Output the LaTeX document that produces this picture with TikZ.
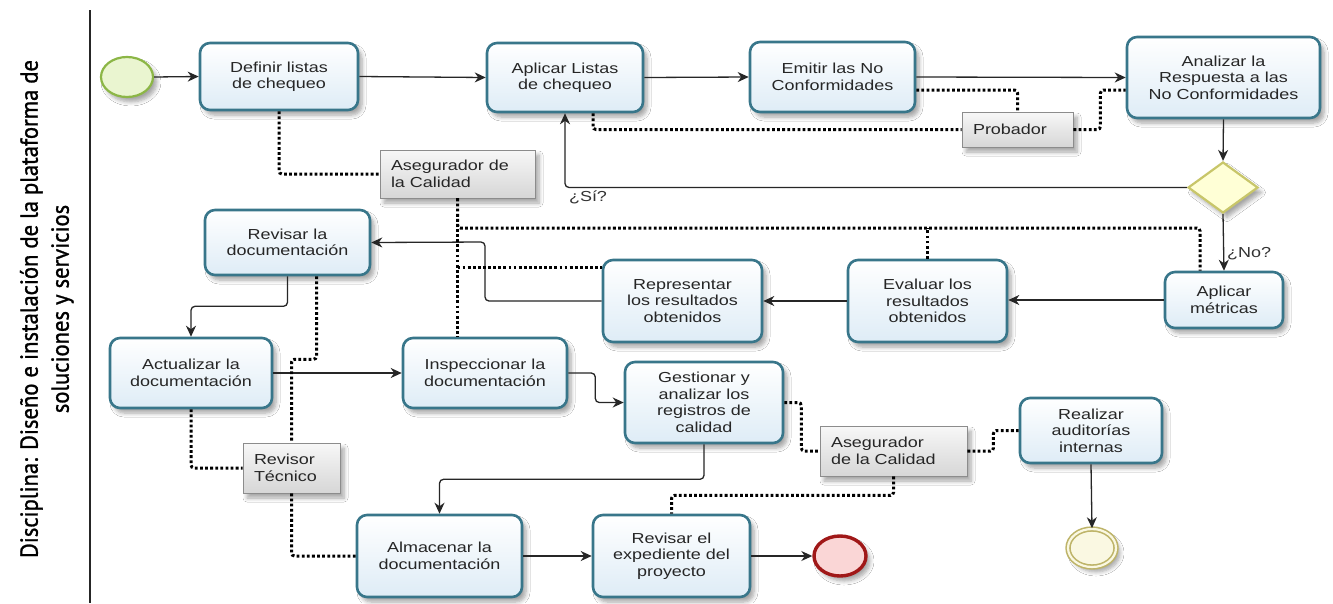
\documentclass[tikz,border=0pt]{standalone}
\usepackage{fontspec}
\setmainfont{Liberation Sans}[FakeStretch=1.24]
\newfontfamily\lanefont{PT Sans}[FakeBold=1.2]
\usepackage{graphicx}
\usetikzlibrary{shapes.geometric,arrows.meta,calc,shadows.blur}

\definecolor{taskline}{RGB}{56,118,138}
\definecolor{taskfill}{RGB}{222,236,246}
\definecolor{startline}{RGB}{140,182,70}
\definecolor{startfill}{RGB}{234,245,208}
\definecolor{endline}{RGB}{160,24,24}
\definecolor{endfill}{RGB}{250,214,214}
\definecolor{gwline}{RGB}{200,198,105}
\definecolor{gwfill}{RGB}{255,255,214}
\definecolor{interline}{RGB}{190,180,105}
\definecolor{interfill}{RGB}{250,248,226}
\definecolor{annline}{RGB}{140,140,140}

\begin{document}
\begin{tikzpicture}[x=1pt,y=-1pt,
  softshadow/.style={blur shadow={shadow xshift=4pt, shadow yshift=-5pt,
      shadow opacity=35, shadow blur radius=4pt, shadow blur steps=6}},
  task/.style={draw=taskline, line width=2.6pt, rounded corners=10pt,
      top color=white, bottom color=taskfill, align=center, inner sep=0pt,
      font=\fontsize{14.5}{16.5}\selectfont, text=black!85, softshadow},
  annot/.style={draw=annline, line width=0.9pt, top color=black!3,
      bottom color=black!16, align=left, inner xsep=11pt, inner ysep=0pt,
      font=\fontsize{14.5}{17}\selectfont, text=black!85, softshadow},
  startev/.style={ellipse, draw=startline, fill=startfill, line width=2.2pt,
      minimum width=52pt, minimum height=40pt, inner sep=0pt, softshadow},
  endev/.style={ellipse, draw=endline, fill=endfill, line width=3.4pt,
      minimum width=52pt, minimum height=40pt, inner sep=0pt, softshadow},
  interev/.style={ellipse, draw=interline, double=interfill, double distance=2.2pt,
      fill=interfill, line width=1.6pt, minimum width=48pt, minimum height=38pt,
      inner sep=0pt, softshadow},
  gateway/.style={diamond, draw=gwline, fill=gwfill, line width=2.2pt,
      minimum width=70pt, minimum height=51pt, inner sep=0pt, softshadow},
  seq/.style={line width=1.3pt, black!85, rounded corners=4pt,
      -{Stealth[length=11pt,width=10pt,inset=3.5pt]}},
  assocline/.style={line width=3pt, black, dash pattern=on 2.8pt off 2.3pt,
      rounded corners=3pt},
  lbl/.style={font=\fontsize{14.5}{17}\selectfont, text=black!80, inner sep=1pt}
]
\useasboundingbox (0,0) rectangle (1333,603);
\fill[white] (0,0) rectangle (1333,603);

% swimlane header
\coordinate (laneTop) at (90,10);
\coordinate (laneBot) at (90,603);
\draw[line width=1.6pt, black!85] (laneTop) -- (laneBot);
\node[rotate=90, inner sep=0pt] (lane) at (47,309)
  {\resizebox*{498pt}{62pt}{\lanefont\renewcommand{\arraystretch}{1.05}%
   \begin{tabular}{@{}c@{}}Disciplina: Diseño e instalación de la plataforma de\\
   soluciones y servicios\end{tabular}}};

% junction points of the routed connectors
\coordinate (jA) at (1200,228);
\coordinate (jB) at (457.5,267);
\coordinate (jP) at (960,90);
\coordinate (jR) at (485,242);

% events and gateway
\node[startev] (start) at (127,77) {};
\node[endev] (end) at (840,556) {};
\node[interev] (inter) at (1092,548) {};
\node[gateway] (gw) at (1223,187.5) {};

% activities
\node[task, minimum width=158pt, minimum height=67pt] (def) at (279,76.5) {Definir listas\\de chequeo};
\node[task, minimum width=156pt, minimum height=69pt] (apl) at (565,77.5) {Aplicar Listas\\de chequeo};
\node[task, minimum width=165pt, minimum height=70pt] (emi) at (832.5,77) {Emitir las No\\Conformidades};
\node[task, minimum width=193pt, minimum height=81pt] (ana) at (1223.5,77.5) {Analizar la\\Respuesta a las\\No Conformidades};
\node[task, minimum width=118pt, minimum height=56pt] (met) at (1224,300) {Aplicar\\métricas};
\node[task, minimum width=159pt, minimum height=82pt] (eva) at (927.5,301) {Evaluar los\\resultados\\obtenidos};
\node[task, minimum width=159pt, minimum height=82pt] (rep) at (682.5,301) {Representar\\los resultados\\obtenidos};
\node[task, minimum width=165pt, minimum height=65pt] (rev) at (287.5,242.5) {Revisar la\\documentación};
\node[task, minimum width=162pt, minimum height=70pt] (act) at (191,373) {Actualizar la\\documentación};
\node[task, minimum width=164pt, minimum height=70pt] (ins) at (485,373) {Inspeccionar la\\documentación};
\node[task, minimum width=158pt, minimum height=81pt] (ges) at (704,402.5) {Gestionar y\\analizar los\\registros de\\calidad};
\node[task, minimum width=165pt, minimum height=82pt] (alm) at (439.5,556) {Almacenar la\\documentación};
\node[task, minimum width=157pt, minimum height=82pt] (exp) at (671.5,556) {Revisar el\\expediente del\\proyecto};
\node[task, minimum width=142pt, minimum height=65pt] (aud) at (1091,430.5) {Realizar\\auditorías\\internas};

% roles (annotations)
\node[annot, minimum width=155pt, minimum height=48pt, text width=133pt] (aseg1) at (457.5,174) {Asegurador de\\la Calidad};
\node[annot, minimum width=111pt, minimum height=35pt, text width=89pt] (prob) at (1017.5,129.5) {Probador};
\node[annot, minimum width=97pt, minimum height=50pt, text width=75pt] (revi) at (291.5,468) {Revisor\\Técnico};
\node[annot, minimum width=147pt, minimum height=50pt, text width=125pt] (aseg2) at (893.5,451) {Asegurador\\de la Calidad};

% sequence flows
\draw[seq] (start.east) -- (def.west);
\draw[seq] (def.east) -- (apl.west);
\draw[seq] (apl.east) -- (emi.west);
\draw[seq] (emi.east) -- (ana.west);
\draw[seq] (ana.south) -- (gw.north);
\draw[seq] (gw.west) -| (apl.south);
\draw[seq] (gw.south) -- (met.north);
\draw[seq] (met.west) -- (eva.east |- met.west);
\draw[seq] (eva.west) -- (rep.east);
\draw[seq] (rep.west) -| (jR) -- (rev.east);
\draw[seq] (rev.south) -- ++(0,30) -| (act.north);
\draw[seq] (act.east) -- (ins.west);
\draw[seq] (ins.east) -- ++(27,0) |- (ges.west);
\draw[seq] (ges.south) -- ++(0,35) -| (alm.north);
\draw[seq] (alm.east) -- (exp.west);
\draw[seq] (exp.east) -- (end.west);
\draw[seq] (aud.south) -- (inter.north);

\node[lbl] (si) at (588,197) {¿Sí?};
\node[lbl, anchor=west] (no) at (1226,254) {¿No?};

% associations with the roles
\draw[assocline] (def.south) |- (aseg1.west);
\draw[assocline] (aseg1.south) |- (jA) -- (jA |- met.north);
\draw[assocline] (eva.north) -- (eva.north |- jA);
\draw[assocline] (aseg1.south) -- (aseg1.south |- ins.north);
\draw[assocline] (jB) -- (jB -| rep.west);
\draw[assocline] ($(apl.south)+(28,0)$) |- (prob.west);
\draw[assocline] (emi.east |- jP) -| (prob.north);
\draw[assocline] (prob.east) -- ++(27,0) |- (ana.west |- jP);
\draw[assocline] ($(rev.south)+(29,0)$) -- ++(0,83) -| (revi.north);
\draw[assocline] (act.south) |- (revi.west);
\draw[assocline] (revi.south) |- (alm.west);
\draw[assocline] (ges.east) -- ++(17,0) |- (aseg2.west);
\draw[assocline] (aseg2.east) -- ++(26,0) |- (aud.west);
\draw[assocline] (aseg2.south) -- ++(0,19) -| (exp.north);
\end{tikzpicture}
\end{document}
